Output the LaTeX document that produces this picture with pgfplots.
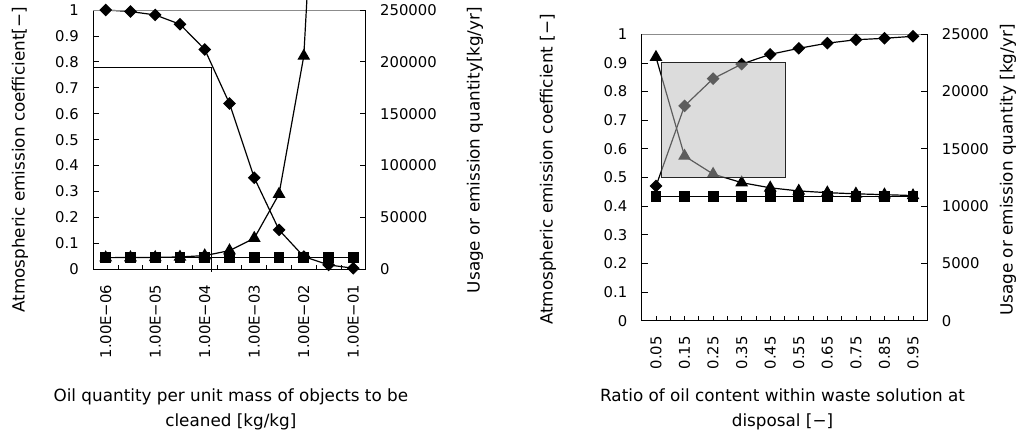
\documentclass[border=0pt]{standalone}
\usepackage{pgfplots}
\pgfplotsset{compat=1.18}
\usepackage{fontspec}
\setmainfont{DejaVu Sans}

% Oil quantity per unit mass (1E-06 ... 1E-01, half-decade steps)
\pgfplotstableread{
idx coef emis usage
0  1.000 11250 11250
1  0.994 11250 11320
2  0.981 11250 11470
3  0.945 11250 11900
4  0.848 11250 13200
5  0.639 11250 18000
6  0.353 11250 30000
7  0.152 11250 72500
8  0.049 11250 205600
9  0.017 11250 640000
10 0.004 11250 2500000
}\oiltable

% Ratio of oil content in waste solution (0.05 ... 0.95)
\pgfplotstableread{
idx coef emis usage
0 0.470 10875 23000
1 0.750 10875 14375
2 0.845 10875 12800
3 0.896 10875 12050
4 0.930 10875 11600
5 0.951 10875 11325
6 0.969 10875 11175
7 0.981 10875 11075
8 0.986 10875 11000
9 0.993 10875 10925
}\ratiotable

\newcommand{\titlefont}{\fontsize{16.8}{25}\selectfont}

\pgfplotsset{
  every axis/.append style={
    scale only axis,
    tick align=inside,
    major tick length=6pt,
    minor tick length=4.5pt,
    tick style={black, line width=0.8pt},
    axis line style={black, line width=0.9pt},
    every tick label/.append style={font=\fontsize{14.8}{17}\selectfont},
    yticklabel shift=11pt,
    xticklabel shift=12pt,
    scaled y ticks=false,
    every major x tick/.append style={draw=none},
  },
  coefline/.style={black, line width=1.2pt, mark=square*,
    mark size=3.9pt, mark options={rotate=45, solid, fill=black}},
  emisline/.style={black, line width=1.2pt, mark=square*,
    mark size=4.8pt, mark options={solid, fill=black}},
  useline/.style={black, line width=1.2pt, mark=triangle*,
    mark size=6.2pt, mark options={solid, fill=black}},
}

\begin{document}
\begin{tikzpicture}
\path[use as bounding box] (0pt,0pt) rectangle (1018pt,436pt);

% ---------- left chart: emission coefficient axis ----------
\begin{axis}[
  at={(93.3pt,166.7pt)}, anchor=south west,
  width=272.4pt, height=259.3pt,
  xmin=-0.5, xmax=10.5, ymin=0, ymax=1,
  xtick={0,2,4,6,8,10},
  xticklabels={1.00E−06,1.00E−05,1.00E−04,1.00E−03,1.00E−02,1.00E−01},
  minor xtick={0.5,1.5,2.5,3.5,4.5,5.5,6.5,7.5,8.5,9.5},
  xtick pos=bottom,
  xticklabel style={rotate=90, anchor=east},
  ytick={0,0.1,0.2,0.3,0.4,0.5,0.6,0.7,0.8,0.9,1},
  yticklabels={0,0.1,0.2,0.3,0.4,0.5,0.6,0.7,0.8,0.9,1},
  ytick pos=left,
  ylabel={Atmospheric emission coefficient[−]},
  every axis y label/.style={at={(rel axis cs:-0.269,0.4215)}, rotate=90, anchor=center, font=\titlefont},
  xlabel={Oil quantity per unit mass of objects to be\\cleaned [kg/kg]},
  every axis x label/.style={at={(rel axis cs:0.505,-0.5395)}, anchor=center, align=center, font=\titlefont},
  clip=false,
]
\addplot[coefline] table[x=idx, y=coef] {\oiltable};
\draw[black!45, line width=0.9pt] (rel axis cs:0,1) -- (rel axis cs:1,1);
\draw[black, line width=1pt] (axis cs:-0.5,0.78) -- (axis cs:4.28,0.78) -- (axis cs:4.28,-0.01);
\end{axis}

% ---------- left chart: usage / emission quantity axis ----------
\begin{axis}[
  at={(93.3pt,166.7pt)}, anchor=south west,
  width=272.4pt, height=269.3pt,
  xmin=-0.5, xmax=10.5, ymin=0, ymax=259641,
  axis x line=none, axis y line*=right,
  y axis line style={draw=none},
  ytick={0,50000,100000,150000,200000,250000},
  yticklabels={0,50000,100000,150000,200000,250000},
  ylabel={Usage or emission quantity[kg/yr]},
  every axis y label/.style={at={(rel axis cs:1.401,0.443)}, rotate=90, anchor=center, font=\titlefont},
]
\addplot[emisline] table[x=idx, y=emis] {\oiltable};
\addplot[useline] table[x=idx, y=usage] {\oiltable};
\end{axis}

% ---------- right chart: emission coefficient axis ----------
\begin{axis}[
  at={(641.7pt,115.3pt)}, anchor=south west,
  width=285.6pt, height=286.4pt,
  xmin=-0.5, xmax=9.5, ymin=0, ymax=1,
  xtick={0,1,2,3,4,5,6,7,8,9},
  xticklabels={0.05,0.15,0.25,0.35,0.45,0.55,0.65,0.75,0.85,0.95},
  minor xtick={0,0.5,1,1.5,2,2.5,3,3.5,4,4.5,5,5.5,6,6.5,7,7.5,8,8.5,9},
  xtick pos=bottom,
  xticklabel style={rotate=90, anchor=east},
  ytick={0,0.1,0.2,0.3,0.4,0.5,0.6,0.7,0.8,0.9,1},
  yticklabels={0,0.1,0.2,0.3,0.4,0.5,0.6,0.7,0.8,0.9,1},
  ytick pos=left,
  ylabel={Atmospheric emission coefficient [−]},
  every axis y label/.style={at={(rel axis cs:-0.328,0.528)}, rotate=90, anchor=center, font=\titlefont},
  xlabel={Ratio of oil content within waste solution at\\disposal [−]},
  every axis x label/.style={at={(rel axis cs:0.493,-0.309)}, anchor=center, align=center, font=\titlefont},
  clip=false,
]
\addplot[coefline] table[x=idx, y=coef] {\ratiotable};
\draw[black!45, line width=0.9pt] (rel axis cs:0,1) -- (rel axis cs:1,1);
\end{axis}

% ---------- right chart: usage / emission quantity axis ----------
\begin{axis}[
  at={(641.7pt,115.3pt)}, anchor=south west,
  width=285.6pt, height=286.4pt,
  xmin=-0.5, xmax=9.5, ymin=0, ymax=25000,
  axis x line=none, axis y line*=right,
  y axis line style={draw=none},
  ytick={0,5000,10000,15000,20000,25000},
  yticklabels={0,5000,10000,15000,20000,25000},
  ylabel={Usage or emission quantity [kg/yr]},
  every axis y label/.style={at={(rel axis cs:1.2826,0.526)}, rotate=90, anchor=center, font=\titlefont},
]
\addplot[emisline] table[x=idx, y=emis] {\ratiotable};
\addplot[useline] table[x=idx, y=usage] {\ratiotable};
\end{axis}

% ---------- right chart: highlighted range, laid over both series ----------
\begin{axis}[
  at={(641.7pt,115.3pt)}, anchor=south west,
  width=285.6pt, height=286.4pt,
  xmin=-0.5, xmax=9.5, ymin=0, ymax=1,
  hide axis,
]
\fill[black!27, fill opacity=0.5] (axis cs:0.2,0.5) rectangle (axis cs:4.54,0.9);
\draw[black!85, line width=1.1pt] (axis cs:0.2,0.5) rectangle (axis cs:4.54,0.9);
\end{axis}
\end{tikzpicture}
\end{document}
